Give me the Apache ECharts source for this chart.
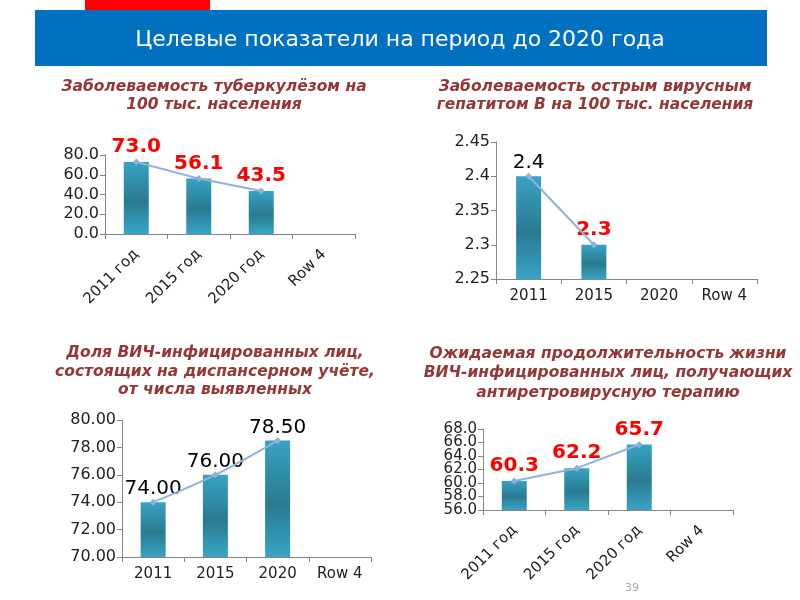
<!DOCTYPE html>
<html>
<head>
<meta charset="utf-8">
<script src="https://cdn.jsdelivr.net/npm/echarts@6/dist/echarts.min.js"></script>
<style>html,body{margin:0;padding:0;background:#fff}#c{width:800px;height:600px}</style>
</head>
<body>
<div id="c"></div>
<script>
// ---- data ----
const catsYear = ['2011 год', '2015 год', '2020 год', 'Row 4'];
const catsPlain = ['2011', '2015', '2020', 'Row 4'];
const tbValues = [73.0, 56.1, 43.5, null];
const hepValues = [2.4, 2.3, null, null];
const hivShareValues = [74.00, 76.00, 78.50, null];
const hivLifeValues = [60.3, 62.2, 65.7, null];
// chart 4 y ticks 56..68 step 2 are split over two overlaid axes so none is hidden
const hivLifeTicksA = [56, 60, 64, 68];
const hivLifeTicksB = [58, 62, 66];

const headerTitle = 'Целевые показатели на период до 2020 года';
const chartTitles = [
  'Заболеваемость туберкулёзом на\n100 тыс. населения',
  'Заболеваемость острым вирусным\nгепатитом В на 100 тыс. населения',
  'Доля ВИЧ-инфицированных лиц,\nсостоящих на диспансерном учёте,\nот числа выявленных',
  'Ожидаемая продолжительность жизни\nВИЧ-инфицированных лиц, получающих\nантиретровирусную терапию'
];
const pageNumber = '39';

// ---- styles ----
const FONT = 'DejaVu Sans';
const barGrad = new echarts.graphic.LinearGradient(0, 0, 0, 1, [
  {offset: 0, color: '#37a3c3'},
  {offset: 0.55, color: '#2a7a90'},
  {offset: 1, color: '#37a5c4'}
]);
const lineColor = '#8fb2dc';
const redLabel = {show: true, position: 'top', distance: 5, color: '#ff0000', fontWeight: 'bold', fontSize: 20, fontFamily: FONT};
const blackLabel = {show: true, position: 'top', distance: 3, color: '#000000', fontWeight: 'normal', fontSize: 20, fontFamily: FONT};

const grids = [
  {left: 105, top: 155, width: 250, height: 79},
  {left: 496, top: 142, width: 261, height: 137},
  {left: 122, top: 420, width: 249, height: 137},
  {left: 483, top: 429, width: 250, height: 81}
];

function xAx(i, cats, rotate) {
  return {
    type: 'category', gridIndex: i, data: cats, boundaryGap: true,
    axisLine: {show: true, lineStyle: {color: '#868686', width: 1}},
    axisTick: {show: true, length: 5, alignWithLabel: false, lineStyle: {color: '#868686'}},
    axisLabel: {color: '#222', fontSize: 15, fontFamily: FONT, rotate: rotate, margin: rotate ? 18 : 10, interval: 0},
    splitLine: {show: false}
  };
}
function yAx(i, min, max, interval, digits, fs, customTicks) {
  const ax = {
    type: 'value', gridIndex: i, position: 'left', min: min, max: max, interval: interval,
    axisLine: {show: true, lineStyle: {color: '#868686', width: 1}},
    axisTick: {show: true, length: 5, lineStyle: {color: '#868686'}},
    axisLabel: {color: '#222', fontSize: fs, fontFamily: FONT, margin: 6,
      showMinLabel: true, showMaxLabel: true, hideOverlap: false,
      formatter: v => digits === null ? String(+Number(v).toFixed(2)) : Number(v).toFixed(digits)},
    splitLine: {show: false}
  };
  if (customTicks) {
    ax.axisLabel.customValues = customTicks;
    ax.axisTick.customValues = customTicks;
  }
  return ax;
}
function barSeries(i, data, fmtDigits, label) {
  return {
    type: 'bar', xAxisIndex: i, yAxisIndex: i, barWidth: 25,
    itemStyle: {color: barGrad},
    label: Object.assign({}, label, {formatter: p => p.value == null ? '' : Number(p.value).toFixed(fmtDigits)}),
    data: data, z: 2
  };
}
function lineSeries(i, data, smooth) {
  return {
    type: 'line', xAxisIndex: i, yAxisIndex: i, data: data, smooth: smooth || false,
    symbol: 'diamond', symbolSize: 7,
    lineStyle: {color: lineColor, width: 2}, itemStyle: {color: lineColor},
    label: {show: false}, z: 3, connectNulls: false
  };
}

const titleStyle = lh => ({color: '#953735', fontSize: 15.5, fontWeight: 'bold', fontStyle: 'italic', fontFamily: FONT, lineHeight: lh});
const hepData = hepValues.map((v, k) => ({value: v, label: k === 0 ? blackLabel : redLabel}));

const lifeAxisB = yAx(3, 56, 68, 2, 1, 15, hivLifeTicksB);
lifeAxisB.axisLine.show = false;

const option = {
  animation: false,
  backgroundColor: '#ffffff',
  title: [
    {text: chartTitles[0], left: 209, top: 73, textAlign: 'center', textStyle: titleStyle(18)},
    {text: chartTitles[1], left: 590, top: 73, textAlign: 'center', textStyle: titleStyle(18)},
    {text: chartTitles[2], left: 210, top: 339, textAlign: 'center', textStyle: titleStyle(18.5)},
    {text: chartTitles[3], left: 603, top: 339, textAlign: 'center', textStyle: titleStyle(19.5)}
  ],
  graphic: [
    {type: 'rect', shape: {x: 85, y: 0, width: 125, height: 10}, style: {fill: '#ff0000'}, z: 10},
    {type: 'rect', shape: {x: 35, y: 10, width: 732, height: 56}, style: {fill: '#0070c0'}, z: 10},
    {type: 'text', x: 400, y: 40, z: 11, style: {text: headerTitle, fill: '#ffffff', fontSize: 22, fontFamily: FONT, align: 'center', verticalAlign: 'middle'}},
    {type: 'text', x: 632, y: 588, z: 11, style: {text: pageNumber, fill: '#aaaaaa', fontSize: 11, fontFamily: FONT, align: 'center', verticalAlign: 'middle'}}
  ],
  grid: grids,
  xAxis: [xAx(0, catsYear, 45), xAx(1, catsPlain, 0), xAx(2, catsPlain, 0), xAx(3, catsYear, 45)],
  yAxis: [
    yAx(0, 0, 80, 20, 1, 16),
    yAx(1, 2.25, 2.45, 0.05, null, 16),
    yAx(2, 70, 80, 2, 2, 16),
    yAx(3, 56, 68, 4, 1, 15, hivLifeTicksA),
    lifeAxisB
  ],
  series: [
    barSeries(0, tbValues, 1, redLabel), lineSeries(0, tbValues),
    barSeries(1, hepData, 1, redLabel), lineSeries(1, hepValues),
    barSeries(2, hivShareValues, 2, blackLabel), lineSeries(2, hivShareValues, 0.3),
    barSeries(3, hivLifeValues, 1, redLabel), lineSeries(3, hivLifeValues)
  ]
};
const chart = echarts.init(document.getElementById('c'), null, {renderer: 'canvas'});
chart.setOption(option);
</script>
</body>
</html>
